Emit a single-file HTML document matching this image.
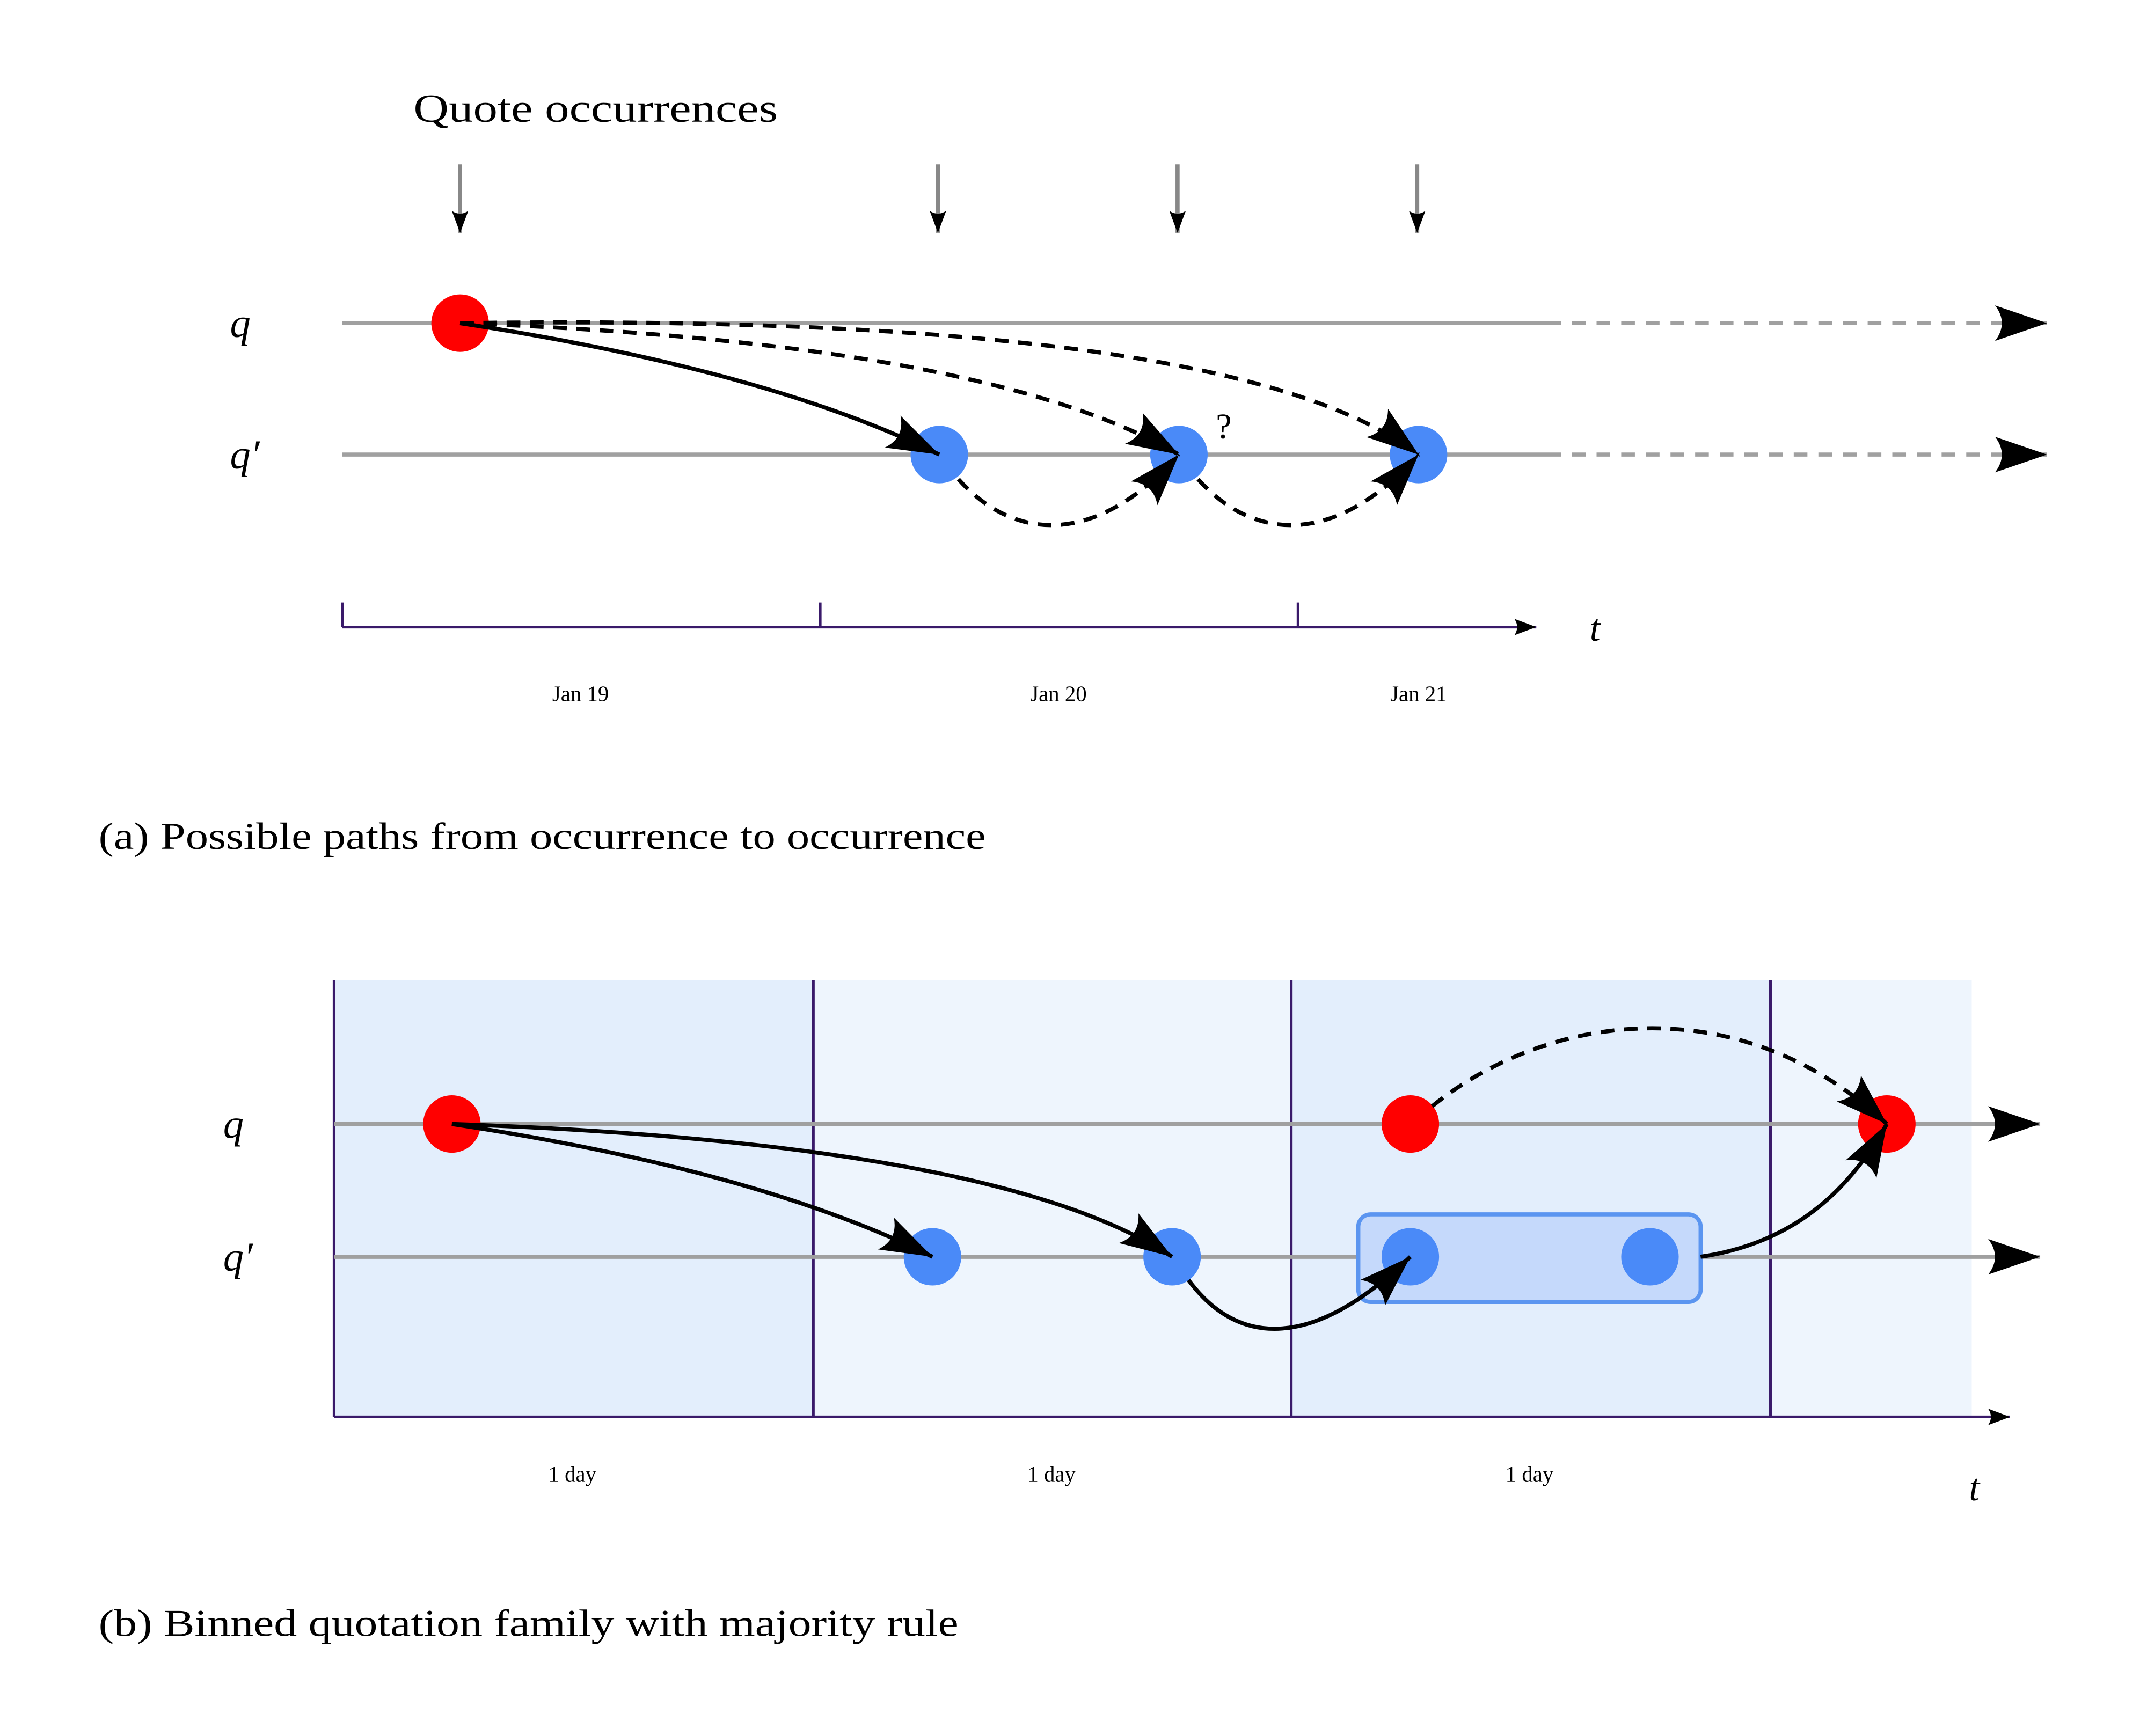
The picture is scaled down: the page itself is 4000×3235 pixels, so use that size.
<!DOCTYPE html>
<html><head><meta charset="utf-8"><style>
html,body{margin:0;padding:0;background:#fff;}
svg{display:block;}
text{font-family:"Liberation Serif",serif;fill:#000;}
</style></head><body>
<svg id="fig" width="4000" height="3235" viewBox="0 0 1568 1268" xmlns="http://www.w3.org/2000/svg">
<defs>
<marker id="big" markerUnits="userSpaceOnUse" markerWidth="40" markerHeight="30" refX="38" refY="13" orient="auto" viewBox="0 0 40 26">
<path d="M0,0 L38,13 L0,26 Q10,13 0,0 Z" fill="#000"/></marker>
<marker id="small" markerUnits="userSpaceOnUse" markerWidth="18" markerHeight="12" refX="16" refY="6" orient="auto" viewBox="0 0 18 12">
<path d="M0,0 L16,6 L0,12 Q4,6 0,0 Z" fill="#000"/></marker>
</defs>

<g>
<text x="302" y="89" font-size="29" textLength="266" lengthAdjust="spacingAndGlyphs">Quote occurrences</text>
<g id="occArrows"></g>
<text x="168" y="246" font-size="30" font-style="italic">q</text>
<text x="168" y="342" font-size="30" font-style="italic">q′</text>
<line x1="250" y1="236" x2="1130" y2="236" stroke="#a0a0a0" stroke-width="3"/>
<line x1="1130" y1="236" x2="1495" y2="236" stroke="#a0a0a0" stroke-width="3" stroke-dasharray="10,8" marker-end="url(#big)"/>
<line x1="250" y1="332" x2="1130" y2="332" stroke="#a0a0a0" stroke-width="3"/>
<line x1="1130" y1="332" x2="1495" y2="332" stroke="#a0a0a0" stroke-width="3" stroke-dasharray="10,8" marker-end="url(#big)"/>
<circle cx="336" cy="236" r="21" fill="#ff0000"/>
<circle cx="686" cy="332" r="21" fill="#4a8af8"/>
<circle cx="861" cy="332" r="21" fill="#4a8af8"/>
<circle cx="1036" cy="332" r="21" fill="#4a8af8"/>
<g fill="none" stroke="#000" stroke-width="3">
<path d="M336,236 Q560,270 686,332" marker-end="url(#big)"/>
<path d="M336,236 Q720,250 861,332" stroke-dasharray="10,7" marker-end="url(#big)"/>
<path d="M336,236 Q900,228 1036,332" stroke-dasharray="10,7" marker-end="url(#big)"/>
<path d="M700,350 C740,395 800,400 861,332" stroke-dasharray="10,7" marker-end="url(#big)"/>
<path d="M875,350 C915,395 975,400 1036,332" stroke-dasharray="10,7" marker-end="url(#big)"/>
</g>
<text x="888" y="320" font-size="26">?</text>
<line x1="250" y1="458" x2="1122" y2="458" stroke="#3a1a6a" stroke-width="2" marker-end="url(#small)"/>
<line x1="250" y1="440" x2="250" y2="458" stroke="#3a1a6a" stroke-width="2"/>
<line x1="599" y1="440" x2="599" y2="458" stroke="#3a1a6a" stroke-width="2"/>
<line x1="948" y1="440" x2="948" y2="458" stroke="#3a1a6a" stroke-width="2"/>
<text x="1161" y="468" font-size="28" font-style="italic">t</text>
<text x="424" y="512" font-size="16" text-anchor="middle">Jan 19</text>
<text x="773" y="512" font-size="16" text-anchor="middle">Jan 20</text>
<text x="1036" y="512" font-size="16" text-anchor="middle">Jan 21</text>
<text x="72" y="620" font-size="28" textLength="648" lengthAdjust="spacingAndGlyphs">(a) Possible paths from occurrence to occurrence</text>
</g>

<g>
<rect x="244" y="716" width="350" height="319" fill="#e3eefc"/>
<rect x="594" y="716" width="349" height="319" fill="#eef5fd"/>
<rect x="943" y="716" width="350" height="319" fill="#e3eefc"/>
<rect x="1293" y="716" width="147" height="319" fill="#eef5fd"/>
<g stroke="#3a1a6a" stroke-width="2">
<line x1="244" y1="716" x2="244" y2="1035"/>
<line x1="594" y1="716" x2="594" y2="1035"/>
<line x1="943" y1="716" x2="943" y2="1035"/>
<line x1="1293" y1="716" x2="1293" y2="1035"/>
</g>
<line x1="244" y1="1035" x2="1468" y2="1035" stroke="#3a1a6a" stroke-width="2" marker-end="url(#small)"/>
<text x="163" y="831" font-size="30" font-style="italic">q</text>
<text x="163" y="928" font-size="30" font-style="italic">q′</text>
<line x1="244" y1="821" x2="1490" y2="821" stroke="#a0a0a0" stroke-width="3" marker-end="url(#big)"/>
<line x1="244" y1="918" x2="1490" y2="918" stroke="#a0a0a0" stroke-width="3" marker-end="url(#big)"/>
<rect x="992" y="887" width="250" height="64" rx="9" fill="#c5d9fb" stroke="#5b95f0" stroke-width="3"/>
<circle cx="330" cy="821" r="21" fill="#ff0000"/>
<circle cx="1030" cy="821" r="21" fill="#ff0000"/>
<circle cx="1378" cy="821" r="21" fill="#ff0000"/>
<circle cx="681" cy="918" r="21" fill="#4a8af8"/>
<circle cx="856" cy="918" r="21" fill="#4a8af8"/>
<circle cx="1030" cy="918" r="21" fill="#4a8af8"/>
<circle cx="1205" cy="918" r="21" fill="#4a8af8"/>
<g fill="none" stroke="#000" stroke-width="3">
<path d="M330,821 Q555,855 681,918" marker-end="url(#big)"/>
<path d="M330,821 Q730,835 856,918" marker-end="url(#big)"/>
<path d="M868,935 C905,985 960,985 1030,918" marker-end="url(#big)"/>
<path d="M1046,808 C1130,740 1270,720 1378,821" stroke-dasharray="10,7" marker-end="url(#big)"/>
<path d="M1242,918 C1310,908 1350,870 1378,821" marker-end="url(#big)"/>
</g>
<text x="418" y="1082" font-size="16" text-anchor="middle">1 day</text>
<text x="768" y="1082" font-size="16" text-anchor="middle">1 day</text>
<text x="1117" y="1082" font-size="16" text-anchor="middle">1 day</text>
<text x="1438" y="1096" font-size="28" font-style="italic">t</text>
<text x="72" y="1195" font-size="28" textLength="628" lengthAdjust="spacingAndGlyphs">(b) Binned quotation family with majority rule</text>
</g>
</svg>
<script>
const occurrenceX = [336, 685, 860, 1035];
const g = document.getElementById('occArrows');
const NS = 'http://www.w3.org/2000/svg';
occurrenceX.forEach(function(x){
  const l = document.createElementNS(NS,'line');
  
  
  l.setAttribute('x1', x); l.setAttribute('y1', 120);
  l.setAttribute('x2', x); l.setAttribute('y2', 170);
  l.setAttribute('stroke', '#888'); l.setAttribute('stroke-width', '3');
  l.setAttribute('marker-end', 'url(#small)');
  g.appendChild(l);
});
</script>
</body></html>
